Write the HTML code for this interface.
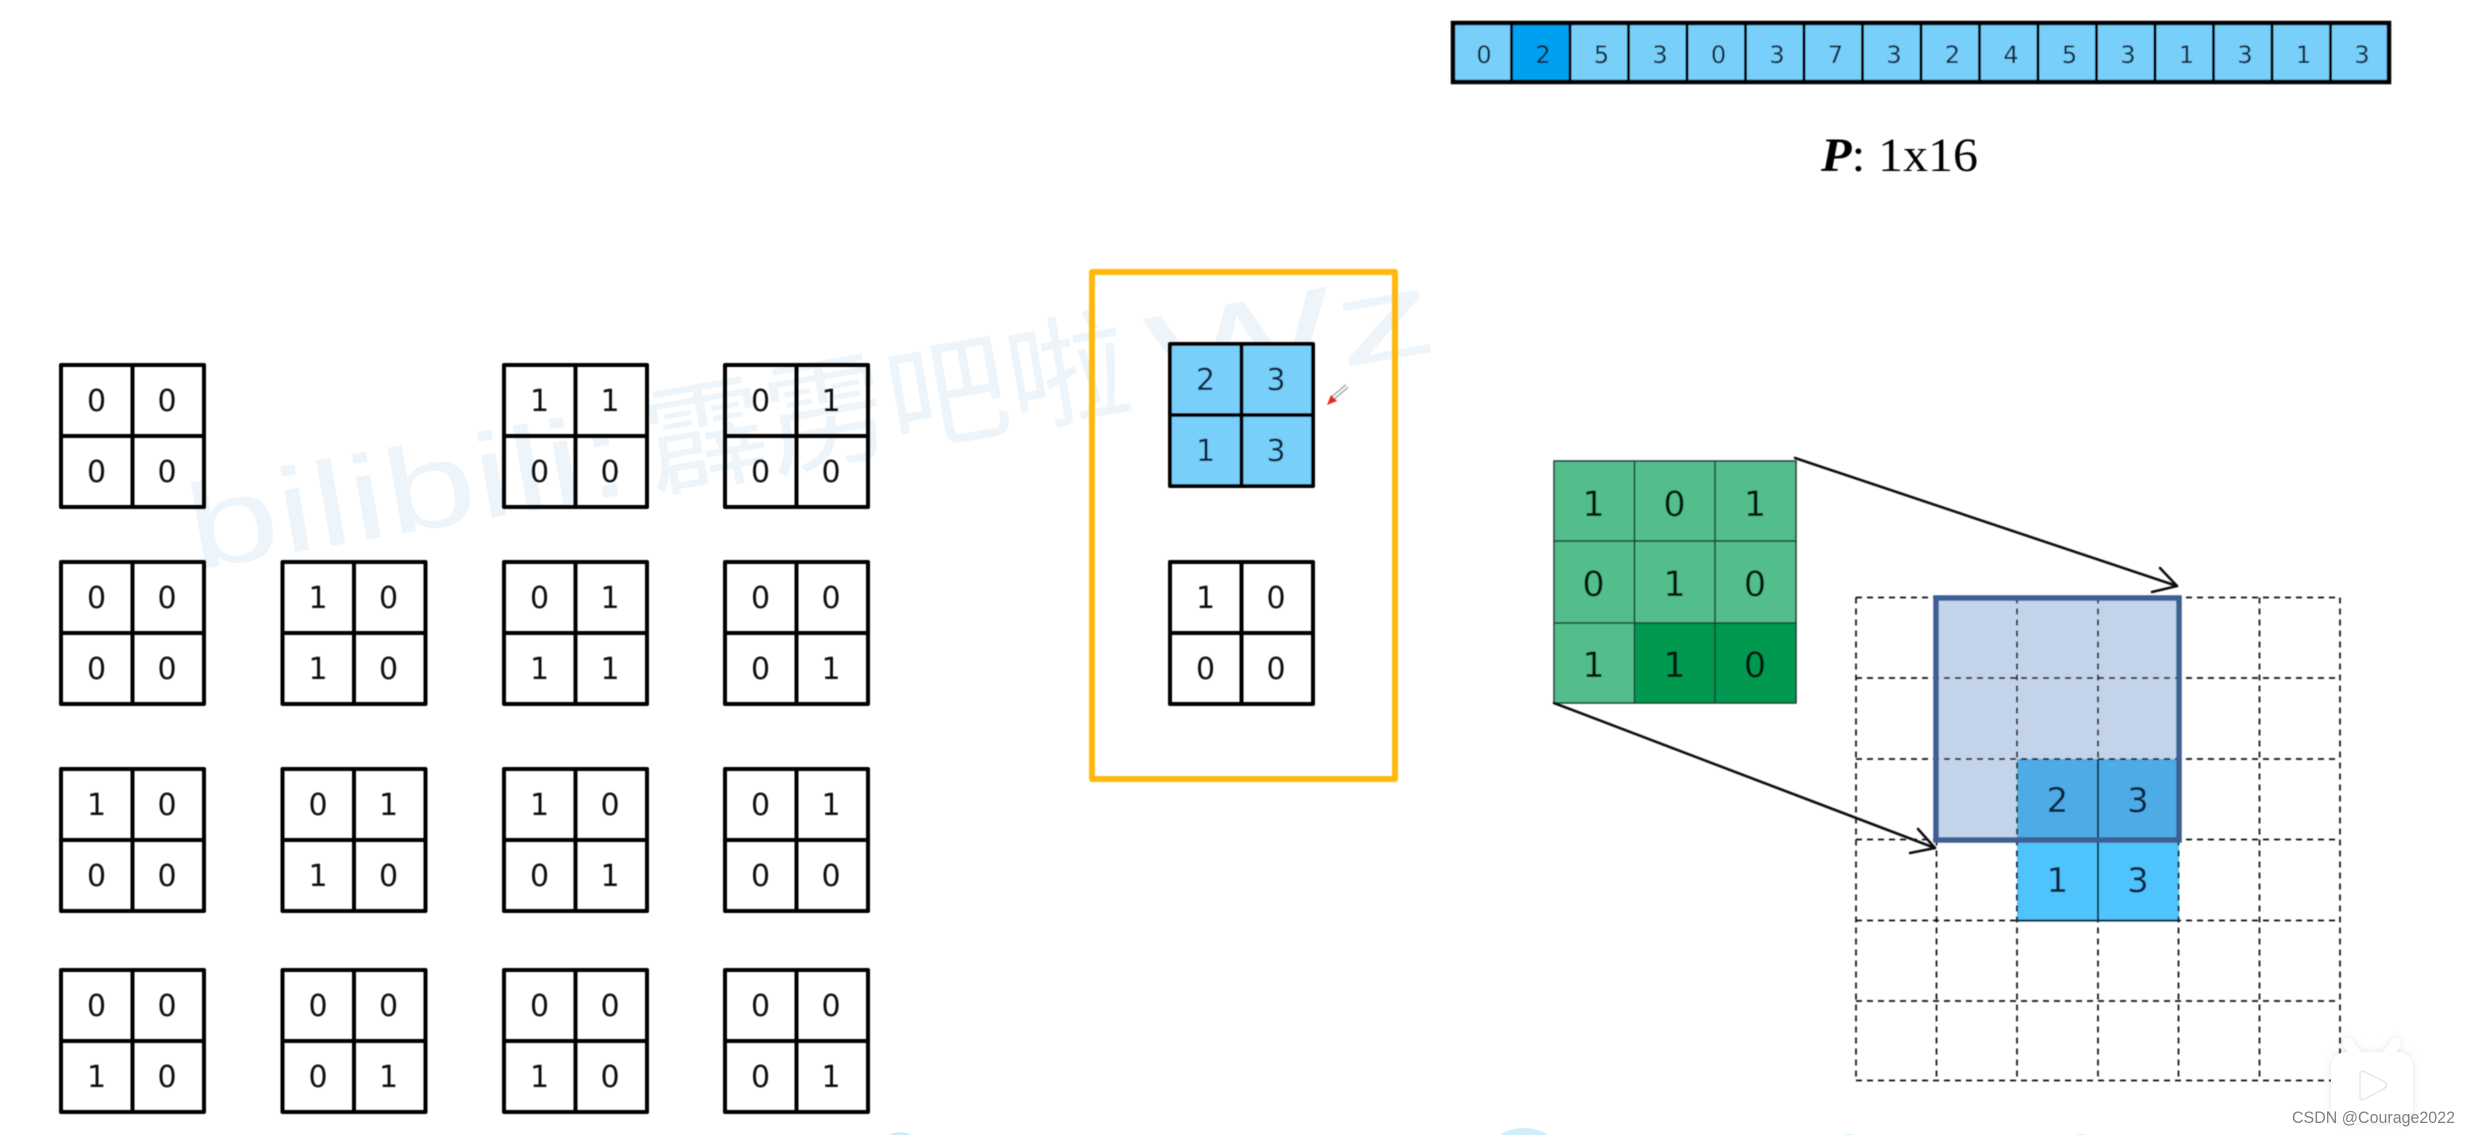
<!DOCTYPE html>
<html lang="zh">
<head>
<meta charset="utf-8">
<title>Deconvolution diagram</title>
<style>
html,body{margin:0;padding:0;background:#fff;width:2470px;height:1135px;overflow:hidden}
svg{display:block}
text{font-family:"DejaVu Sans",sans-serif}
.d{font-size:30px;text-anchor:middle;fill:#111}
.b{font-size:24px;text-anchor:middle;fill:#0a2438}
.g{font-size:35px;text-anchor:middle;fill:#00150c}
.f{font-size:34px;text-anchor:middle;fill:#0a2440}
.w{font-family:"Liberation Sans","Noto Sans CJK SC",sans-serif;font-size:120px;fill:#edf5fb}
</style>
</head>
<body>
<svg width="2470" height="1135" viewBox="0 0 2470 1135" xmlns="http://www.w3.org/2000/svg">
<defs>
<g id="grid" fill="none" stroke="#000" stroke-width="4" stroke-linejoin="round">
<rect x="0" y="0" width="143" height="142"/><path d="M71.5 0V142M0 71H143"/>
</g>
<filter id="soft" x="-5%" y="-5%" width="110%" height="110%"><feGaussianBlur stdDeviation="0.55"/></filter>
<filter id="shadow" x="-30%" y="-30%" width="160%" height="160%"><feDropShadow dx="0" dy="0" stdDeviation="4" flood-color="#000" flood-opacity="0.1"/></filter>
</defs>

<!-- watermark -->
<g transform="translate(195,570) rotate(-10)">
<text class="w" x="0" y="0" textLength="445" lengthAdjust="spacingAndGlyphs">bilibili:</text>
<text class="w" x="465" y="0" textLength="490" lengthAdjust="spacingAndGlyphs">霹雳吧啦</text>
<text class="w" x="975" y="0" textLength="290" lengthAdjust="spacingAndGlyphs">Wz</text>
</g>

<g filter="url(#soft)">
<!-- P bar -->
<rect x="1453" y="23" width="936" height="59" fill="#78cff9"/>
<rect x="1511.5" y="23" width="58.5" height="59" fill="#00a0f0"/>
<g fill="none" stroke="#000">
<rect x="1453" y="23" width="936" height="59" stroke-width="4.5"/>
<path stroke-width="3" d="M1511.5 23V82M1570 23V82M1628.5 23V82M1687 23V82M1745.5 23V82M1804 23V82M1862.5 23V82M1921 23V82M1979.5 23V82M2038 23V82M2096.5 23V82M2155 23V82M2213.5 23V82M2272 23V82M2330.5 23V82"/>
</g>
<g>
<text class="b" x="1484" y="63">0</text><text class="b" x="1543" y="63">2</text><text class="b" x="1601.5" y="63">5</text><text class="b" x="1660" y="63">3</text><text class="b" x="1718.5" y="63">0</text><text class="b" x="1777" y="63">3</text><text class="b" x="1835.5" y="63">7</text><text class="b" x="1894" y="63">3</text><text class="b" x="1952.5" y="63">2</text><text class="b" x="2011" y="63">4</text><text class="b" x="2069.5" y="63">5</text><text class="b" x="2128" y="63">3</text><text class="b" x="2186.5" y="63">1</text><text class="b" x="2245" y="63">3</text><text class="b" x="2303.5" y="63">1</text><text class="b" x="2362" y="63">3</text>
</g>
<text x="1821" y="171" textLength="157" lengthAdjust="spacingAndGlyphs" style="font-family:'Liberation Serif',serif;font-size:48px;fill:#000"><tspan font-weight="bold" font-style="italic">P</tspan>: 1x16</text>

<!-- left grids row 1 -->
<g transform="translate(61,365)"><use href="#grid"/><text class="d" x="35.5" y="46">0</text><text class="d" x="106" y="46">0</text><text class="d" x="35.5" y="117">0</text><text class="d" x="106" y="117">0</text></g>
<g transform="translate(504,365)"><use href="#grid"/><text class="d" x="35.5" y="46">1</text><text class="d" x="106" y="46">1</text><text class="d" x="35.5" y="117">0</text><text class="d" x="106" y="117">0</text></g>
<g transform="translate(725,365)"><use href="#grid"/><text class="d" x="35.5" y="46">0</text><text class="d" x="106" y="46">1</text><text class="d" x="35.5" y="117">0</text><text class="d" x="106" y="117">0</text></g>
<!-- row 2 -->
<g transform="translate(61,562)"><use href="#grid"/><text class="d" x="35.5" y="46">0</text><text class="d" x="106" y="46">0</text><text class="d" x="35.5" y="117">0</text><text class="d" x="106" y="117">0</text></g>
<g transform="translate(282.5,562)"><use href="#grid"/><text class="d" x="35.5" y="46">1</text><text class="d" x="106" y="46">0</text><text class="d" x="35.5" y="117">1</text><text class="d" x="106" y="117">0</text></g>
<g transform="translate(504,562)"><use href="#grid"/><text class="d" x="35.5" y="46">0</text><text class="d" x="106" y="46">1</text><text class="d" x="35.5" y="117">1</text><text class="d" x="106" y="117">1</text></g>
<g transform="translate(725,562)"><use href="#grid"/><text class="d" x="35.5" y="46">0</text><text class="d" x="106" y="46">0</text><text class="d" x="35.5" y="117">0</text><text class="d" x="106" y="117">1</text></g>
<!-- row 3 -->
<g transform="translate(61,769)"><use href="#grid"/><text class="d" x="35.5" y="46">1</text><text class="d" x="106" y="46">0</text><text class="d" x="35.5" y="117">0</text><text class="d" x="106" y="117">0</text></g>
<g transform="translate(282.5,769)"><use href="#grid"/><text class="d" x="35.5" y="46">0</text><text class="d" x="106" y="46">1</text><text class="d" x="35.5" y="117">1</text><text class="d" x="106" y="117">0</text></g>
<g transform="translate(504,769)"><use href="#grid"/><text class="d" x="35.5" y="46">1</text><text class="d" x="106" y="46">0</text><text class="d" x="35.5" y="117">0</text><text class="d" x="106" y="117">1</text></g>
<g transform="translate(725,769)"><use href="#grid"/><text class="d" x="35.5" y="46">0</text><text class="d" x="106" y="46">1</text><text class="d" x="35.5" y="117">0</text><text class="d" x="106" y="117">0</text></g>
<!-- row 4 -->
<g transform="translate(61,970)"><use href="#grid"/><text class="d" x="35.5" y="46">0</text><text class="d" x="106" y="46">0</text><text class="d" x="35.5" y="117">1</text><text class="d" x="106" y="117">0</text></g>
<g transform="translate(282.5,970)"><use href="#grid"/><text class="d" x="35.5" y="46">0</text><text class="d" x="106" y="46">0</text><text class="d" x="35.5" y="117">0</text><text class="d" x="106" y="117">1</text></g>
<g transform="translate(504,970)"><use href="#grid"/><text class="d" x="35.5" y="46">0</text><text class="d" x="106" y="46">0</text><text class="d" x="35.5" y="117">1</text><text class="d" x="106" y="117">0</text></g>
<g transform="translate(725,970)"><use href="#grid"/><text class="d" x="35.5" y="46">0</text><text class="d" x="106" y="46">0</text><text class="d" x="35.5" y="117">0</text><text class="d" x="106" y="117">1</text></g>

<!-- yellow box -->
<rect x="1092" y="272" width="303" height="507" fill="none" stroke="#ffb90f" stroke-width="6" stroke-linejoin="round"/>
<rect x="1170" y="344" width="143" height="142" fill="#78cff9"/>
<g transform="translate(1170,344)"><use href="#grid"/><text class="d" x="35.5" y="46" style="fill:#0a2440">2</text><text class="d" x="106" y="46" style="fill:#0a2440">3</text><text class="d" x="35.5" y="117" style="fill:#0a2440">1</text><text class="d" x="106" y="117" style="fill:#0a2440">3</text></g>
<g transform="translate(1170,562)"><use href="#grid"/><text class="d" x="35.5" y="46">1</text><text class="d" x="106" y="46">0</text><text class="d" x="35.5" y="117">0</text><text class="d" x="106" y="117">0</text></g>
<!-- pen cursor -->
<path d="M1333 398L1347 386" stroke="#999" stroke-width="4.5" fill="none"/>
<path d="M1333 398L1347 386" stroke="#fff" stroke-width="2" fill="none"/>
<path d="M1327 405L1331 395L1337 401Z" fill="#e02a20"/>

<!-- green kernel -->
<rect x="1554" y="461" width="242" height="242" fill="#52bd8c"/>
<rect x="1634" y="623" width="162" height="80" fill="#00994f"/>
<g fill="none" stroke="#1d3d30" stroke-width="1.5">
<rect x="1554" y="461" width="242" height="242"/>
<path d="M1634.5 461V703M1715 461V703M1554 541H1796M1554 623H1796"/>
</g>
<text class="g" x="1593.5" y="516">1</text><text class="g" x="1674.5" y="516">0</text><text class="g" x="1755" y="516">1</text>
<text class="g" x="1593.5" y="596">0</text><text class="g" x="1674.5" y="596">1</text><text class="g" x="1755" y="596">0</text>
<text class="g" x="1593.5" y="677">1</text><text class="g" x="1674.5" y="677">1</text><text class="g" x="1755" y="677">0</text>

<!-- output grid fills -->
<rect x="1936" y="598" width="243" height="242" fill="#c2d3ea"/>
<rect x="2017" y="759" width="162" height="81" fill="#4dace5"/>
<rect x="2017" y="840" width="162" height="80.5" fill="#50c3fb"/>
<!-- dashed grid -->
<g fill="none" stroke="#111" stroke-width="1.7" stroke-dasharray="6 5">
<path d="M1856 597.5H2340M1856 678H2340M1856 759H2340M1856 839.5H2340M1856 920.5H2340M1856 1001H2340M1856 1080.5H2340"/>
<path d="M1856 597.5V1080.5M1936.5 597.5V1080.5M2017 597.5V1080.5M2098 597.5V1080.5M2178.5 597.5V1080.5M2259.5 597.5V1080.5M2340 597.5V1080.5"/>
</g>
<path d="M2098 759V920.5M2017 920.5H2179" stroke="#0c2a45" stroke-width="2" fill="none"/>
<rect x="1936" y="598" width="243" height="242" fill="none" stroke="#3c5f93" stroke-width="5.5"/>
<text class="f" x="2057.5" y="812">2</text><text class="f" x="2138" y="812">3</text>
<text class="f" x="2057.5" y="892">1</text><text class="f" x="2138" y="892">3</text>

<!-- arrows -->
<g fill="none" stroke="#111" stroke-width="2.6" stroke-linecap="round" stroke-linejoin="round">
<path d="M1795 458L2177 586"/>
<path d="M2160 568L2177 586L2152 592"/>
<path d="M1554 703L1935 848"/>
<path d="M1918 829L1935 848L1910 853"/>
</g>
</g>

<!-- bottom peeking shapes -->
<ellipse cx="900" cy="1144" rx="16" ry="12" fill="#cfeefa"/>
<ellipse cx="1524" cy="1146" rx="30" ry="18" fill="#cfeefa"/>
<ellipse cx="1849" cy="1138" rx="10" ry="4" fill="#d8f1fb"/>
<ellipse cx="2081" cy="1138" rx="10" ry="4" fill="#d8f1fb"/>

<!-- TV logo -->
<g filter="url(#shadow)" fill="#fff">
<path d="M2356 1054L2348 1043M2388 1054L2396 1043" stroke="#fff" stroke-width="10" stroke-linecap="round" fill="none"/>
<rect x="2331" y="1052" width="82" height="71" rx="15"/>
</g>
<path d="M2360 1075Q2360 1070 2365 1072L2385 1082Q2388 1085 2385 1088L2365 1099Q2360 1101 2360 1096Z" fill="#fff" stroke="#e6e6e6" stroke-width="1.5"/>
<text x="2292" y="1123" textLength="163" lengthAdjust="spacingAndGlyphs" style="font-family:'Liberation Sans',sans-serif;font-size:17px;fill:#808080">CSDN @Courage2022</text>
</svg>
</body>
</html>
